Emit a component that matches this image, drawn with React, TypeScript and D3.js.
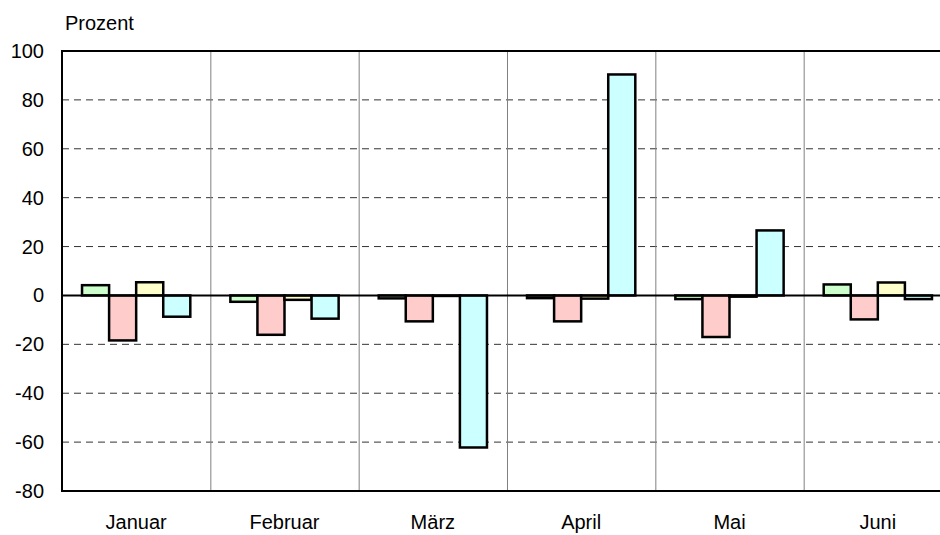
import { useEffect, useRef } from 'react';
import * as d3 from 'd3';

const months = ['Januar', 'Februar', 'März', 'April', 'Mai', 'Juni'];
const seriesNames = ['a', 'b', 'c', 'd'];
const seriesA = [4.2, -2.6, -1.2, -1.1, -1.5, 4.5];
const seriesB = [-18.4, -16.1, -10.6, -10.6, -17.0, -9.8];
const seriesC = [5.4, -1.8, -0.2, -1.3, -0.5, 5.3];
const seriesD = [-8.7, -9.5, -62.2, 90.4, 26.6, -1.5];
const seriesColors = ['#ccffcc', '#ffcccc', '#ffffcc', '#ccffff'];
const yTicks = [100, 80, 60, 40, 20, 0, -20, -40, -60, -80];

export default function App() {
  const svgRef = useRef<SVGSVGElement>(null);

  useEffect(() => {
    if (!svgRef.current) return;
    const svg = d3.select(svgRef.current);
    svg.selectAll('*').remove();

    const font = 'Liberation Sans, Arial, sans-serif';
    const left = 62;
    const right = 952; // plot runs past the right edge of the picture
    const top = 51;
    const bottom = 491;

    const x0 = d3.scaleBand<string>().domain(months).range([left, right]).paddingInner(0).paddingOuter(0);
    const x1 = d3.scaleBand<string>().domain(seriesNames).range([0, x0.bandwidth()]).paddingInner(0).paddingOuter(0.74);
    const y = d3.scaleLinear().domain([-80, 100]).range([bottom, top]);

    const allSeries = [seriesA, seriesB, seriesC, seriesD];

    // dashed grid
    svg.append('g')
      .selectAll('line')
      .data(yTicks.filter(t => t !== 100 && t !== -80 && t !== 0))
      .join('line')
      .attr('x1', left)
      .attr('x2', right)
      .attr('y1', d => y(d))
      .attr('y2', d => y(d))
      .attr('stroke', '#333')
      .attr('stroke-width', 1)
      .attr('stroke-dasharray', '7,5');

    // month separators
    svg.append('g')
      .selectAll('line')
      .data(months.slice(1))
      .join('line')
      .attr('x1', d => x0(d)! + 0.5)
      .attr('x2', d => x0(d)! + 0.5)
      .attr('y1', top)
      .attr('y2', bottom)
      .attr('stroke', '#808080')
      .attr('stroke-width', 1);

    // bars
    const groups = svg.append('g')
      .selectAll('g')
      .data(months)
      .join('g')
      .attr('transform', d => `translate(${x0(d)},0)`);

    groups.selectAll('rect')
      .data((_, i) => allSeries.map((s, k) => ({ key: seriesNames[k], value: s[i], color: seriesColors[k] })))
      .join('rect')
      .attr('x', d => x1(d.key)!)
      .attr('width', x1.bandwidth())
      .attr('y', d => Math.min(y(d.value), y(0)))
      .attr('height', d => Math.abs(y(d.value) - y(0)))
      .attr('fill', d => d.color)
      .attr('stroke', '#000')
      .attr('stroke-width', 2.5);

    // zero line
    svg.append('line')
      .attr('x1', left)
      .attr('x2', right)
      .attr('y1', y(0))
      .attr('y2', y(0))
      .attr('stroke', '#000')
      .attr('stroke-width', 2);

    // frame: top, bottom, left
    svg.append('path')
      .attr('d', `M${right},${top}H${left}V${bottom}H${right}`)
      .attr('fill', 'none')
      .attr('stroke', '#000')
      .attr('stroke-width', 2);

    // y labels
    svg.append('g')
      .selectAll('text')
      .data(yTicks)
      .join('text')
      .attr('x', 44)
      .attr('y', d => y(d))
      .attr('text-anchor', 'end')
      .attr('dominant-baseline', 'central')
      .attr('font-family', font)
      .attr('font-size', 20)
      .attr('fill', '#000')
      .text(d => d);

    // month labels
    svg.append('g')
      .selectAll('text')
      .data(months)
      .join('text')
      .attr('x', d => x0(d)! + x0.bandwidth() / 2)
      .attr('y', 529)
      .attr('text-anchor', 'middle')
      .attr('font-family', font)
      .attr('font-size', 20)
      .attr('fill', '#000')
      .text(d => d);

    svg.append('text')
      .attr('x', 65)
      .attr('y', 30)
      .attr('font-family', font)
      .attr('font-size', 20)
      .attr('fill', '#000')
      .text('Prozent');
  }, []);

  return (
    <div style={{ position: 'absolute', left: 0, top: 0, width: 940, height: 535, overflow: 'hidden', background: '#fff' }}>
      <svg ref={svgRef} width={940} height={535} style={{ display: 'block' }}></svg>
    </div>
  );
}
